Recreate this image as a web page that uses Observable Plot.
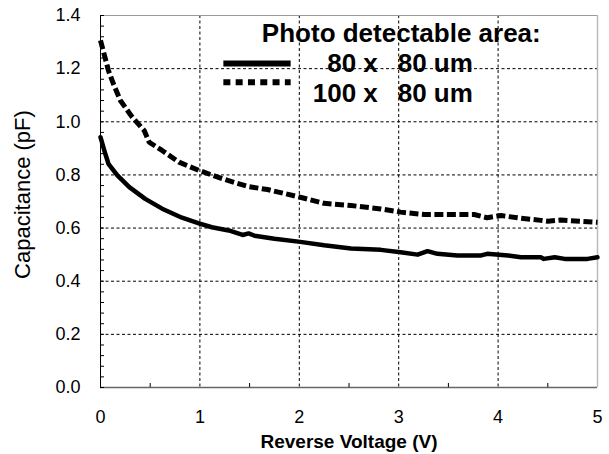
<!DOCTYPE html>
<html>
<head>
<meta charset="utf-8">
<script src="https://cdn.jsdelivr.net/npm/d3@7"></script>
<script src="https://cdn.jsdelivr.net/npm/@observablehq/plot@0.6"></script>
<style>
  html, body { margin: 0; padding: 0; background: #fff; }
  svg text { white-space: pre; }
</style>
</head>
<body>
<div id="chart"></div>
<script>
// Series: 80 x 80 um (solid)
const volt80 = [0, 0.04, 0.08, 0.17, 0.29, 0.45, 0.62, 0.82, 0.99, 1.12, 1.29, 1.43, 1.49, 1.55, 1.75, 2.01, 2.25, 2.52, 2.82, 3.02, 3.19, 3.29, 3.39, 3.59, 3.83, 3.89, 4.10, 4.23, 4.43, 4.46, 4.57, 4.67, 4.90, 5.0];
const cap80  = [0.942, 0.890, 0.842, 0.798, 0.754, 0.710, 0.673, 0.639, 0.618, 0.603, 0.591, 0.574, 0.580, 0.571, 0.560, 0.548, 0.535, 0.523, 0.518, 0.509, 0.500, 0.513, 0.503, 0.497, 0.497, 0.503, 0.497, 0.490, 0.490, 0.484, 0.490, 0.484, 0.484, 0.490];
// Series: 100 x 80 um (dashed)
const volt100 = [0, 0.08, 0.13, 0.20, 0.32, 0.44, 0.49, 0.62, 0.79, 0.99, 1.23, 1.49, 1.68, 2.01, 2.25, 2.52, 2.82, 3.02, 3.26, 3.76, 3.89, 4.03, 4.23, 4.43, 4.5, 4.63, 5.0];
const cap100  = [1.306, 1.193, 1.143, 1.080, 1.017, 0.967, 0.923, 0.892, 0.848, 0.817, 0.785, 0.756, 0.745, 0.716, 0.693, 0.685, 0.672, 0.660, 0.651, 0.651, 0.639, 0.647, 0.637, 0.629, 0.626, 0.630, 0.622];

// Axis ticks
const xTicks = [0, 1, 2, 3, 4, 5];
const xGrid = [1, 2, 3, 4];
const xMinor = [0.5, 1.5, 2.5, 3.5, 4.5];
const yTicks = [0, 0.2, 0.4, 0.6, 0.8, 1.0, 1.2, 1.4];
const yGrid = [0.2, 0.4, 0.6, 0.8, 1.0, 1.2];
const yMinor = d3.range(0, 71).map(i => i * 0.04).filter(v => v <= 1.4001);

// Text
const xLabel = "Reverse Voltage (V)";
const yLabel = "Capacitance (pF)";
const legendTitle = "Photo detectable area:";
const legendLeft = ["80 x", "100 x"];
const legendRight = ["80 um", "80 um"];

const data80 = volt80.map((v, i) => ({v, c: cap80[i]}));
const data100 = volt100.map((v, i) => ({v, c: cap100[i]}));

// legend layout (data space)
const legX1 = 1.236, legX2 = 1.913;
const legRowY = [1.219, 1.149];
const legTextY = [1.189, 1.076];
const legTitleY = 1.302;

const font = "'Liberation Sans', Arial, sans-serif";

const plot = Plot.plot({
  width: 609,
  height: 454,
  marginLeft: 100,
  marginRight: 12,
  marginTop: 15,
  marginBottom: 67,
  style: {fontFamily: font, fontSize: "18px", color: "#000", background: "#fff"},
  x: {domain: [0, 5]},
  y: {domain: [0, 1.4]},
  marks: [
    Plot.gridY(yGrid, {stroke: "#000", strokeOpacity: 1, strokeDasharray: "3,2.5", strokeWidth: 1}),
    Plot.gridX(xGrid, {stroke: "#000", strokeOpacity: 1, strokeDasharray: "3,2.5", strokeWidth: 1}),
    Plot.ruleY([1.4], {stroke: "#999"}),
    Plot.ruleX([5], {stroke: "#bbb", strokeWidth: 1.5}),
    Plot.ruleY([0], {stroke: "#666", strokeWidth: 1.5}),
    Plot.ruleX([0], {stroke: "#000"}),
    Plot.axisY(yMinor, {tickSize: -4, tickFormat: () => "", stroke: "#000"}),
    Plot.axisX(xMinor, {tickSize: -4, tickFormat: () => "", stroke: "#000"}),
    Plot.axisY(yTicks, {tickSize: 0, tickPadding: 20, tickFormat: d3.format(".1f"), fontSize: 18, label: null}),
    Plot.axisX(xTicks, {tickSize: 0, tickPadding: 23, tickFormat: d3.format("d"), fontSize: 18, label: null}),
    Plot.line(data80, {x: "v", y: "c", stroke: "#000", strokeWidth: 4.5, curve: "linear"}),
    Plot.line(data100, {x: "v", y: "c", stroke: "#000", strokeWidth: 5, strokeDasharray: "9,3.5", strokeLinecap: "butt", strokeLinejoin: "miter", curve: "linear"}),
    // legend samples
    Plot.line([{x: legX1, y: legRowY[0]}, {x: legX2, y: legRowY[0]}], {x: "x", y: "y", stroke: "#000", strokeWidth: 6, strokeLinecap: "butt"}),
    Plot.line([{x: legX1, y: legRowY[1]}, {x: legX2, y: legRowY[1]}], {x: "x", y: "y", stroke: "#000", strokeWidth: 6, strokeDasharray: "7,5.3", strokeLinecap: "butt"}),
    Plot.text([legendTitle], {x: 3.026, y: legTitleY, text: d => d, textAnchor: "middle", lineAnchor: "bottom", fontSize: 26, fontWeight: "bold"}),
    Plot.text(legendLeft, {x: 2.79, y: (d, i) => legTextY[i], text: d => d, textAnchor: "end", lineAnchor: "bottom", fontSize: 26, fontWeight: "bold"}),
    Plot.text(legendRight, {x: 2.99, y: (d, i) => legTextY[i], text: d => d, textAnchor: "start", lineAnchor: "bottom", fontSize: 26, fontWeight: "bold"}),
    // axis labels
    Plot.text([xLabel], {frameAnchor: "bottom", dy: 60, text: d => d, textAnchor: "middle", lineAnchor: "bottom", fontSize: 19, fontWeight: "bold"}),
    Plot.text([yLabel], {frameAnchor: "left", dx: -78, dy: -7, rotate: -90, text: d => d, textAnchor: "middle", lineAnchor: "middle", fontSize: 22})
  ]
});
document.getElementById("chart").appendChild(plot);
</script>
</body>
</html>
